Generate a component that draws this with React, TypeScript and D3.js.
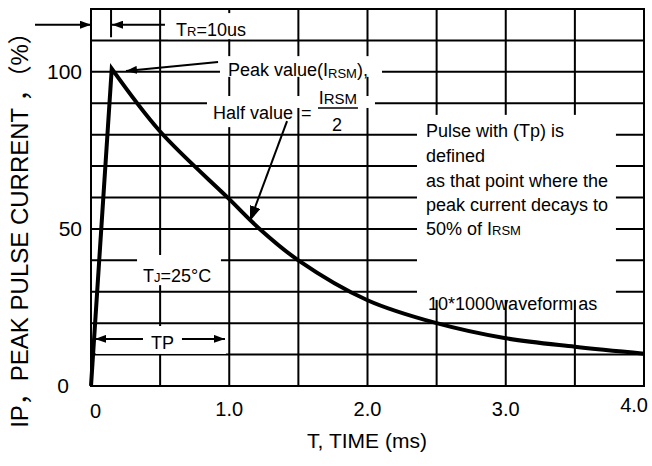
import React from 'react';
import * as d3 from 'd3';

// ---- data ----
const timeMs = [0, 0.15, 0.5, 1.0, 1.22, 1.5, 2.0, 2.5, 3.0, 3.5, 4.0];
const currentPct = [0, 101, 81, 59.5, 50, 40, 27.3, 20, 15.2, 12.5, 10.3];
const xTickValues = [0, 1, 2, 3, 4];
const xTickLabels = ['0', '1.0', '2.0', '3.0', '4.0'];
const yTickValues = [0, 50, 100];
const yTickLabels = ['0', '50', '100'];
const xGridValues = d3.range(0, 4.0001, 0.5);
const yGridValues = d3.range(0, 120.001, 10);

const W = 652;
const H = 466;
const FONT = "'Liberation Sans', Arial, Helvetica, sans-serif";

const x = d3.scaleLinear().domain([0, 4]).range([91, 644]);
const y = d3.scaleLinear().domain([0, 120]).range([386, 9]);

// white label backgrounds, in data units [t0, v0, t1, v1]
const boxes: [number, number, number, number][] = [
  [0.557, 118.7, 1.483, 110.4],
  [0.933, 105.0, 2.105, 98.4],
  [0.839, 92.3, 2.054, 88.5],
  [0.839, 92.3, 1.454, 82.4],
  [2.358, 86.3, 3.797, 27.4],
  [0.333, 41.7, 0.94, 32.1],
  [0.036, 19.1, 0.976, 10.2],
];

export default function App() {
  const pts: [number, number][] = timeMs.map((t, i) => [x(t), y(currentPct[i])]);
  const rise = d3.line()(pts.slice(0, 2)) as string;
  const decay = d3.line().curve(d3.curveCatmullRom.alpha(0.5))(pts.slice(1)) as string;
  const curvePath = rise + decay.replace(/^M/, 'L');

  const line = (t0: number, v0: number, t1: number, v1: number, marker?: string, key?: string) => (
    <line
      key={key}
      x1={x(t0)}
      y1={y(v0)}
      x2={x(t1)}
      y2={y(v1)}
      stroke="#000"
      strokeWidth={2}
      markerEnd={marker ? `url(#${marker})` : undefined}
    />
  );

  const pulseLines = [
    'Pulse with (Tp) is',
    'defined',
    'as that point where the',
    'peak current decays to',
  ];
  const pulseV = [79.3, 71.3, 63.3, 55.7, 48.1];

  return (
    <div style={{ position: 'absolute', left: 0, top: 0 }}>
      <svg width={W} height={H} style={{ display: 'block', background: '#fff' }} fontFamily={FONT}>
        <defs>
          <marker id="ah" viewBox="0 0 10 10" refX="10" refY="5" markerWidth="11" markerHeight="8"
            orient="auto" markerUnits="userSpaceOnUse" preserveAspectRatio="none">
            <path d="M0,0L10,5L0,10z" fill="#000" />
          </marker>
          <marker id="ahBig" viewBox="0 0 10 10" refX="10" refY="5" markerWidth="15" markerHeight="11"
            orient="auto" markerUnits="userSpaceOnUse" preserveAspectRatio="none">
            <path d="M0,0L10,5L0,10z" fill="#000" />
          </marker>
        </defs>
        <rect x={0} y={0} width={W} height={H} fill="#fff" />

        {/* grid */}
        <g stroke="#000" strokeWidth={2}>
          {xGridValues.map((t) => (
            <line key={'gx' + t} x1={x(t)} x2={x(t)} y1={y(0) + 1} y2={y(120) - 1} />
          ))}
          {yGridValues.map((v) => (
            <line key={'gy' + v} x1={x(0) - 1} x2={x(4) + 1} y1={y(v)} y2={y(v)} />
          ))}
        </g>

        {/* label backgrounds */}
        {boxes.map((b, i) => (
          <rect key={'b' + i} x={x(b[0])} y={y(b[1])} width={x(b[2]) - x(b[0])} height={y(b[3]) - y(b[1])} fill="#fff" />
        ))}

        {/* waveform */}
        <path d={curvePath} fill="none" stroke="#000" strokeWidth={4} strokeLinejoin="miter" strokeMiterlimit={10} />

        {/* arrows */}
        {line(-0.405, 115, 0, 115, 'ah', 'a1')}
        {line(0.145, 120, 0.145, 111, undefined, 'a2')}
        {line(0.535, 115, 0.152, 115, 'ah', 'a3')}
        {line(0.919, 103.1, 0.253, 100.3, 'ah', 'a4')}
        {line(1.418, 84.3, 1.15, 52.5, 'ahBig', 'a5')}
        {line(0.376, 15, 0.029, 15, 'ah', 'a6')}
        {line(0.658, 15, 0.969, 15, 'ah', 'a7')}

        {/* annotation texts */}
        <g fontSize={18} fill="#000">
          <text x={x(0.615)} y={y(111.4)}>T<tspan fontSize={13}>R</tspan>=10us</text>
          <text x={x(0.991)} y={y(98.6)}>Peak value(I<tspan fontSize={13} dy={2}>RSM</tspan><tspan dy={-2}>),</tspan></text>
          <text x={x(0.882)} y={y(85.0)}>Half value</text>
          <text x={x(1.519)} y={y(85.0)}>=</text>
          <text x={x(1.786)} y={y(89.7)} textAnchor="middle">I<tspan fontSize={15}>RSM</tspan></text>
          <line x1={x(1.642)} x2={x(1.931)} y1={y(88.5)} y2={y(88.5)} stroke="#000" strokeWidth={1.5} />
          <text x={x(1.779)} y={y(81.2)} textAnchor="middle">2</text>
          {pulseLines.map((s, i) => (
            <text key={'p' + i} x={x(2.423)} y={y(pulseV[i])}>{s}</text>
          ))}
          <text x={x(2.423)} y={y(pulseV[4])}>50% of  I<tspan fontSize={13}>RSM</tspan></text>
          <text x={x(2.438)} y={y(24.2)}>10*1000waveform as</text>
          <text x={x(0.376)} y={y(33.1)}>T<tspan fontSize={13}>J</tspan>=25°C</text>
          <text x={x(0.434)} y={y(11.8)}>TP</text>
        </g>

        {/* x tick labels */}
        <g fontSize={20} fill="#000">
          {xTickValues.map((t, i) => {
            const last = i === xTickValues.length - 1;
            const first = i === 0;
            return (
              <text
                key={'xt' + t}
                x={first ? x(t) - 1 : last ? x(t) + 4 : x(t)}
                y={first ? 418 : last ? 412 : 416}
                textAnchor={first ? 'start' : last ? 'end' : 'middle'}
              >
                {xTickLabels[i]}
              </text>
            );
          })}
        </g>

        {/* y tick labels */}
        <g fontSize={21} fill="#000">
          {yTickValues.map((v, i) => (
            <text key={'yt' + v} x={v === 0 ? 69 : 82} y={y(v) + 7} textAnchor="end">
              {yTickLabels[i]}
            </text>
          ))}
        </g>

        {/* axis titles */}
        <text x={367} y={448} fontSize={21} textAnchor="middle">T, TIME (ms)</text>
        <text
          transform={`translate(28,224) rotate(-90)`}
          fontSize={24}
          textAnchor="middle"
          fontFamily={"'Liberation Sans', Arial, 'Noto Sans CJK SC', sans-serif"}
        >
          IP，PEAK PULSE CURRENT ，（%）
        </text>
      </svg>
    </div>
  );
}
